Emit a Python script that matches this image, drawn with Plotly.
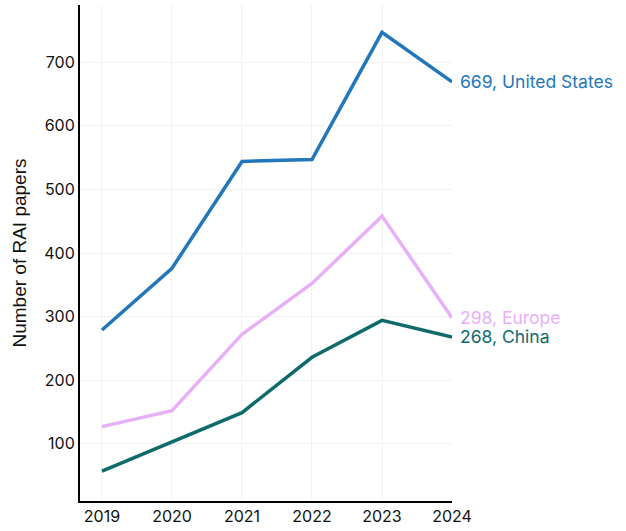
import plotly.graph_objects as go

years = [2019, 2020, 2021, 2022, 2023, 2024]
us = [279, 376, 544, 547, 747, 669]
europe = [127, 152, 272, 352, 458, 298]
china = [57, 103, 149, 236, 294, 268]

series = [
    ("United States", us, "#2277bb"),
    ("Europe", europe, "#e8b0f8"),
    ("China", china, "#0f6b6b"),
]

fig = go.Figure()
for name, vals, col in series:
    fig.add_trace(go.Scatter(x=years, y=vals, mode="lines", name=name,
                             line=dict(color=col, width=3.5), cliponaxis=False))
    fig.add_annotation(x=years[-1], y=vals[-1], text=f"{vals[-1]}, {name}",
                       showarrow=False, xanchor="left", yanchor="middle", xshift=6,
                       font=dict(color=col, size=17.5, family="Inter"))

fig.update_layout(
    width=626, height=531,
    margin=dict(l=80, r=174, t=5, b=30),
    plot_bgcolor="white", paper_bgcolor="white",
    showlegend=False,
    font=dict(family="Inter", size=16, color="#111"),
    xaxis=dict(range=[2018.686, 2024], tickvals=years, showgrid=True,
               gridcolor="#f2f2f2", showline=True, linecolor="black", linewidth=2,
               ticks="", tickfont=dict(size=16), zeroline=False, automargin=False),
    yaxis=dict(range=[10, 790], tickvals=[100, 200, 300, 400, 500, 600, 700],
               showgrid=True, gridcolor="#f2f2f2", showline=True, linecolor="black",
               linewidth=2, ticks="", tickfont=dict(size=16), zeroline=False,
               title=dict(text="Number of RAI papers",
                          font=dict(size=19, family="Liberation Sans"), standoff=13)),
)
fig.write_html("out.html", config={"displayModeBar": False},
               post_script="document.body.style.margin='0';")
